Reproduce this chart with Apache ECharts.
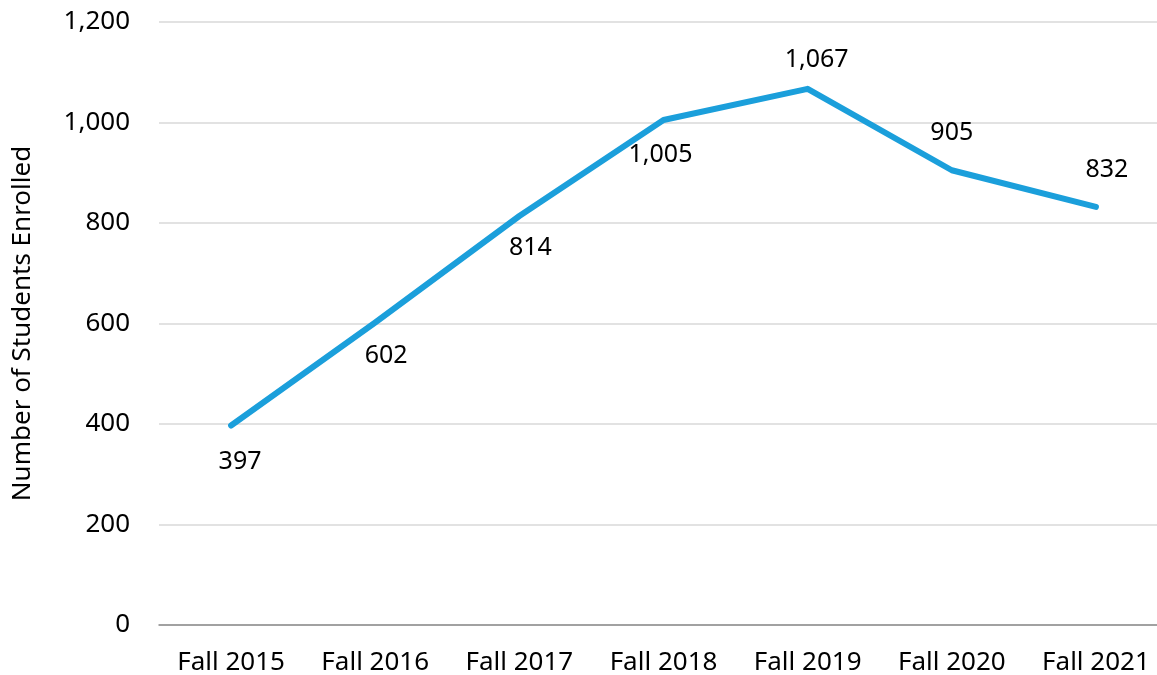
<!DOCTYPE html>
<html>
<head>
<meta charset="utf-8">
<script src="https://cdn.jsdelivr.net/npm/echarts@6/dist/echarts.min.js"></script>
<style>
  html, body { margin: 0; padding: 0; background: #fff; overflow: hidden; }
  #chart { width: 1180px; height: 675px; }
</style>
</head>
<body>
<div id="chart"></div>
<script>
// 数据
const categories = ['Fall 2015', 'Fall 2016', 'Fall 2017', 'Fall 2018', 'Fall 2019', 'Fall 2020', 'Fall 2021'];
const enrolled = [397, 602, 814, 1005, 1067, 905, 832];
// label placement per point: [dx, dy] from the point
const labelOffsets = [[9, 36], [11, 33], [11, 32], [-3, 35], [9, -29], [0, -37], [11, -37]];

const FONT = 'Noto Sans';

const chart = echarts.init(document.getElementById('chart'));

const seriesData = enrolled.map((v, i) => ({
    value: v,
    label: {
        offset: labelOffsets[i],
    },
}));

const option = {
    animation: false,
    grid: {
        left: 159,
        top: 22,
        width: 1009,
        height: 603,
        containLabel: false,
        outerBoundsMode: 'none',
    },
    xAxis: {
        type: 'category',
        data: categories,
        boundaryGap: true,
        axisLine: { lineStyle: { color: '#8c8c8c', width: 1.5 } },
        axisTick: { show: false },
        axisLabel: {
            interval: 0,
            color: '#000',
            fontFamily: FONT,
            fontSize: 26,
            margin: 25,
        },
    },
    yAxis: {
        type: 'value',
        min: 0,
        max: 1200,
        interval: 200,
        name: 'Number of Students Enrolled',
        nameLocation: 'middle',
        nameGap: 123,
        nameRotate: 90,
        nameTextStyle: { color: '#000', fontFamily: FONT, fontSize: 26 },
        axisLine: { show: false },
        axisTick: { show: false },
        splitLine: { lineStyle: { color: '#d9d9d9', width: 1.5 } },
        axisLabel: {
            color: '#000',
            fontFamily: FONT,
            fontSize: 26,
            margin: 29,
            formatter: (v) => v.toLocaleString('en-US'),
        },
    },
    series: [
        {
            type: 'line',
            data: seriesData,
            symbol: 'circle',
            symbolSize: 1,
            showSymbol: true,
            itemStyle: { color: '#1b9fdb' },
            lineStyle: { color: '#1b9fdb', width: 6, cap: 'round', join: 'round' },
            label: {
                show: true,
                position: 'inside',
                align: 'center',
                verticalAlign: 'middle',
                color: '#000',
                fontFamily: FONT,
                fontSize: 25,
                formatter: (p) => p.value.toLocaleString('en-US'),
            },
        },
    ],
};

chart.setOption(option);
</script>
</body>
</html>
